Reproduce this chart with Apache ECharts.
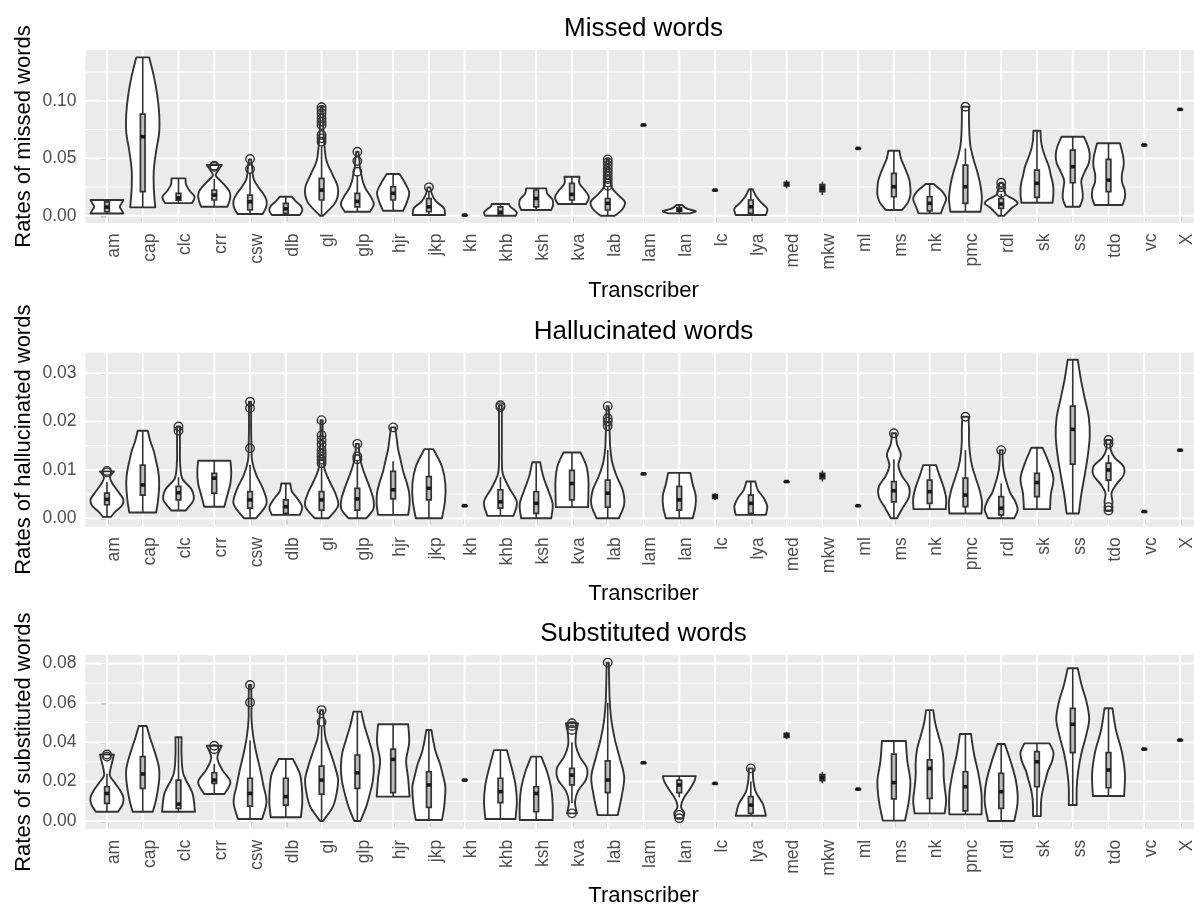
<!DOCTYPE html>
<html><head><meta charset="utf-8">
<script src="https://cdn.jsdelivr.net/npm/echarts@6/dist/echarts.min.js"></script>
<style>html,body{margin:0;padding:0;background:#fff}#c{width:1194px;height:905px}</style>
</head><body><div id="c"></div>
<script>
// ---------------- DATA ----------------
const categories = ['am','cap','clc','crr','csw','dlb','gl','glp','hjr','jkp','kh','khb','ksh','kva','lab','lam','lan','lc','lya','med','mkw','ml','ms','nk','pmc','rdl','sk','ss','tdo','vc','X'];

// Violin profile per transcriber: [lo, hi, density widths from lo to hi (category units)]; null = too few values
const missedViolin = [
  [0.002,0.0137, 0.92,0.82,0.72,0.82,0.92],
  [0.0073,0.1377, 0.70,0.62,0.62,0.75,0.92,0.92,0.81,0.62,0.36],
  [0.011,0.0325, 0.75,0.9,0.62,0.42,0.39],
  [0.0078,0.0441, 0.73,0.84,0.9,0.84,0.62,0.34,0.08,0.22,0.42],
  [0.0015,0.049, 0.7,0.9,0.92,0.73,0.45,0.22,0.14,0.11,0.06],
  [0.0006,0.0165, 0.78,0.92,0.84,0.56,0.34],
  [0,0.0948, 0.08,0.78,0.92,0.62,0.28,0.17,0.11,0.08,0.06],
  [0.0035,0.0557, 0.7,0.92,0.75,0.48,0.31,0.22,0.14,0.11,0.06],
  [0.0043,0.0363, 0.56,0.78,0.9,0.67,0.36],
  [0.0006,0.0247, 0.9,0.84,0.39,0.17,0.08],
  null,
  [0,0.0102, 0.84,0.92,0.78,0.56,0.48],
  [0.005,0.0238, 0.84,0.95,0.9,0.62,0.56],
  [0.0102,0.0339, 0.78,0.95,0.73,0.42,0.42],
  [0,0.049, 0.39,0.84,0.95,0.56,0.22,0.14,0.11,0.08,0.06],
  null,
  [0.0021,0.0093, 0.62,0.92,0.5,0.28,0.17],
  null,
  [0.0006,0.023, 0.84,0.92,0.56,0.28,0.11],
  null,
  null,
  null,
  [0.005,0.0565, 0.45,0.78,0.92,0.92,0.87,0.73,0.56,0.39,0.31],
  [0.0021,0.0276, 0.62,0.78,0.92,0.7,0.22],
  [0.0035,0.0948, 0.84,0.92,0.84,0.67,0.45,0.28,0.22,0.2,0.2],
  [0,0.0287, 0.17,0.39,0.62,0.92,0.7,0.28,0.17,0.14,0.08],
  [0.0113,0.0739, 0.87,0.92,0.9,0.78,0.67,0.48,0.31,0.22,0.2],
  [0.0078,0.0687, 0.39,0.56,0.53,0.48,0.67,0.9,0.95,0.84,0.62],
  [0.0093,0.063, 0.78,0.92,0.9,0.75,0.75,0.84,0.84,0.75,0.64],
  null,
  null
];
// Box per transcriber: [whisker low, q1, median, q3, whisker high]
const missedBox = [
  [0.002,0.0035,0.0075,0.012,0.0137],
  [0.0073,0.0209,0.0687,0.0884,0.1377],
  [0.011,0.0135,0.0155,0.0195,0.0325],
  [0.0078,0.0137,0.018,0.0224,0.032],
  [0.0015,0.005,0.0122,0.018,0.037],
  [0.0006,0.002,0.006,0.0108,0.0165],
  [0,0.0137,0.0223,0.0325,0.06],
  [0.0035,0.0078,0.0125,0.0195,0.035],
  [0.0043,0.0137,0.0195,0.0252,0.0363],
  [0.0006,0.0035,0.0078,0.015,0.022],
  [0.0006,0.0006,0.0006,0.0006,0.0006],
  [0,0.0006,0.003,0.0078,0.0102],
  [0.005,0.0078,0.015,0.0224,0.0238],
  [0.0102,0.0137,0.0186,0.0282,0.0339],
  [0,0.005,0.0108,0.015,0.025],
  [0.0789,0.0789,0.0789,0.0789,0.0789],
  [0.0021,0.004,0.005,0.007,0.0093],
  [0.0223,0.0223,0.0223,0.0223,0.0223],
  [0.0006,0.0021,0.0078,0.0137,0.023],
  [0.0238,0.026,0.0275,0.029,0.031],
  [0.018,0.021,0.024,0.027,0.0296],
  [0.0586,0.0586,0.0586,0.0586,0.0586],
  [0.005,0.0165,0.0252,0.0369,0.0565],
  [0.0021,0.0043,0.0108,0.0165,0.0276],
  [0.0035,0.0108,0.0252,0.0441,0.0586],
  [0,0.0064,0.0102,0.015,0.019],
  [0.0113,0.016,0.0282,0.0397,0.0739],
  [0.0078,0.0287,0.0426,0.0571,0.0687],
  [0.0093,0.0209,0.031,0.049,0.063],
  [0.0615,0.0615,0.0615,0.0615,0.0615],
  [0.0925,0.0925,0.0925,0.0925,0.0925]
];
const missedOutliers = [
  ['crr',0.0425],['crr',0.0435],['csw',0.0406],['csw',0.0493],
  ['gl',0.0643],['gl',0.0673],['gl',0.0702],['gl',0.0788],['gl',0.0817],['gl',0.0847],['gl',0.089],['gl',0.0919],['gl',0.0943],
  ['glp',0.0383],['glp',0.0476],['glp',0.0557],['jkp',0.0247],
  ['lab',0.026],['lab',0.029],['lab',0.032],['lab',0.035],['lab',0.038],['lab',0.041],['lab',0.044],['lab',0.0465],['lab',0.049],
  ['pmc',0.0948],['rdl',0.02],['rdl',0.0247],['rdl',0.0287]
];

const hallViolin = [
  [0.0003,0.0097, 0.22,0.5,0.84,0.92,0.73,0.5,0.28,0.17,0.39],
  [0.0012,0.0181, 0.75,0.84,0.9,0.92,0.87,0.75,0.62,0.42,0.28],
  [0.0016,0.019, 0.39,0.84,0.73,0.22,0.11,0.08,0.08,0.08,0.08],
  [0.0024,0.0119, 0.56,0.73,0.9,0.95,0.9],
  [0,0.0241, 0.34,0.92,0.73,0.34,0.11,0.08,0.06,0.06,0.06],
  [0.0007,0.0072, 0.78,0.92,0.67,0.34,0.25],
  [0,0.0203, 0.39,0.92,0.78,0.45,0.17,0.11,0.08,0.06,0.06],
  [0,0.0154, 0.5,0.9,0.9,0.75,0.56,0.36,0.2,0.11,0.08],
  [0.0007,0.0188, 0.84,0.92,0.9,0.75,0.56,0.42,0.28,0.2,0.11],
  [0,0.0143, 0.73,0.9,0.92,0.73,0.25],
  null,
  [0.0005,0.0234, 0.73,0.92,0.5,0.14,0.08,0.08,0.08,0.08,0.08],
  [0,0.0116, 0.84,0.92,0.67,0.39,0.22],
  [0.0023,0.0136, 0.9,0.92,0.92,0.81,0.48],
  [0,0.0232, 0.62,0.92,0.84,0.5,0.25,0.14,0.11,0.08,0.06],
  null,
  [0,0.0094, 0.75,0.9,0.92,0.75,0.62],
  null,
  [0.0007,0.0076, 0.84,0.92,0.73,0.39,0.25],
  null,
  null,
  null,
  [0,0.0176, 0.17,0.5,0.84,0.84,0.45,0.25,0.39,0.17,0.11],
  [0.0019,0.011, 0.9,0.92,0.78,0.56,0.36],
  [0.001,0.021, 0.9,0.92,0.78,0.56,0.36,0.25,0.2,0.2,0.17],
  [0,0.0141, 0.73,0.92,0.78,0.5,0.34,0.2,0.11,0.08,0.08],
  [0.0019,0.0146, 0.73,0.78,0.92,0.67,0.31],
  [0.001,0.0328, 0.34,0.48,0.67,0.84,0.95,0.9,0.67,0.45,0.28],
  [0.0016,0.0162, 0.17,0.22,0.17,0.45,0.84,0.84,0.34,0.11,0.14],
  null,
  null
];
const hallBox = [
  [0.0003,0.0028,0.0039,0.0052,0.0075],
  [0.0012,0.0048,0.0069,0.011,0.0181],
  [0.0016,0.0038,0.0053,0.0066,0.0085],
  [0.0024,0.0052,0.0083,0.0093,0.0119],
  [0,0.0021,0.0038,0.0055,0.011],
  [0.0007,0.001,0.0024,0.0038,0.0072],
  [0,0.0017,0.0038,0.0055,0.011],
  [0,0.0017,0.004,0.0062,0.012],
  [0.0007,0.004,0.0059,0.0097,0.0118],
  [0,0.0038,0.0062,0.0086,0.0143],
  [0.0026,0.0026,0.0026,0.0026,0.0026],
  [0.0005,0.0021,0.0034,0.0059,0.0085],
  [0,0.001,0.0031,0.0055,0.0116],
  [0.0023,0.0038,0.0072,0.0099,0.0136],
  [0,0.0023,0.0052,0.0079,0.0141],
  [0.0092,0.0092,0.0092,0.0092,0.0092],
  [0,0.0017,0.0038,0.0066,0.0094],
  [0.0038,0.0041,0.0045,0.0049,0.0052],
  [0.0007,0.001,0.0031,0.0048,0.0076],
  [0.0076,0.0076,0.0076,0.0076,0.0076],
  [0.0076,0.0082,0.0088,0.0093,0.0099],
  [0.0026,0.0026,0.0026,0.0026,0.0026],
  [0,0.0034,0.0057,0.0076,0.0122],
  [0.0019,0.0031,0.0055,0.0079,0.011],
  [0.001,0.0024,0.0048,0.0083,0.0141],
  [0,0.0007,0.0021,0.0045,0.0072],
  [0.0019,0.0045,0.0074,0.0093,0.0146],
  [0.001,0.0112,0.0184,0.0232,0.0328],
  [0.0055,0.0079,0.01,0.0114,0.0131],
  [0.0014,0.0014,0.0014,0.0014,0.0014],
  [0.0141,0.0141,0.0141,0.0141,0.0141]
];
const hallOutliers = [
  ['am',0.0095],['am',0.0098],['clc',0.0181],['clc',0.019],
  ['csw',0.0145],['csw',0.0228],['csw',0.0241],
  ['gl',0.0114],['gl',0.0121],['gl',0.0128],['gl',0.0134],['gl',0.0141],['gl',0.0152],['gl',0.0162],['gl',0.0172],['gl',0.0203],
  ['glp',0.0122],['glp',0.0128],['glp',0.0154],['hjr',0.0188],['khb',0.023],['khb',0.0234],
  ['lab',0.0191],['lab',0.02],['lab',0.0207],['lab',0.0232],
  ['ms',0.0176],['pmc',0.021],['rdl',0.0141],
  ['tdo',0.0016],['tdo',0.0023],['tdo',0.0154],['tdo',0.0162]
];

const subViolin = [
  [0.0047,0.0338, 0.62,0.87,0.92,0.73,0.45,0.17,0.2,0.3,0.39],
  [0.0047,0.0482, 0.56,0.73,0.84,0.92,0.92,0.78,0.59,0.39,0.22],
  [0.0047,0.0425, 0.92,0.78,0.28,0.17,0.17],
  [0.0137,0.0382, 0.56,0.9,0.45,0.17,0.42],
  [0.001,0.069, 0.67,0.92,0.75,0.56,0.34,0.17,0.08,0.08,0.06],
  [0.0019,0.0315, 0.84,0.92,0.9,0.78,0.39],
  [0,0.0563, 0.08,0.62,0.84,0.92,0.73,0.48,0.22,0.14,0.08],
  [0,0.0555, 0.17,0.48,0.7,0.87,0.92,0.84,0.62,0.39,0.22],
  [0.0124,0.0491, 0.92,0.84,0.73,0.9,0.84],
  [0.0005,0.0462, 0.73,0.84,0.9,0.92,0.78,0.62,0.39,0.25,0.14],
  null,
  [0.001,0.036, 0.84,0.92,0.84,0.62,0.36],
  [0.0005,0.0327, 0.92,0.92,0.84,0.62,0.28],
  [0.0039,0.0496, 0.28,0.17,0.34,0.78,0.84,0.45,0.22,0.22,0.34],
  [0.003,0.0804, 0.56,0.78,0.92,0.67,0.39,0.2,0.11,0.08,0.06],
  null,
  [0.0014,0.0228, 0.22,0.28,0.11,0.14,0.28,0.48,0.67,0.84,0.92],
  null,
  [0.0027,0.0267, 0.84,0.67,0.28,0.14,0.11],
  null,
  null,
  null,
  [0.0002,0.0406, 0.62,0.84,0.92,0.75,0.67],
  [0.0039,0.0563, 0.84,0.92,0.84,0.78,0.78,0.7,0.5,0.31,0.2],
  [0.0034,0.0442, 0.9,0.9,0.73,0.48,0.31],
  [0,0.0391, 0.73,0.92,0.84,0.56,0.2],
  [0.0025,0.0394, 0.22,0.22,0.25,0.34,0.48,0.62,0.84,0.92,0.7],
  [0.0081,0.0775, 0.22,0.22,0.31,0.48,0.73,0.92,0.78,0.5,0.28],
  [0.0127,0.0572, 0.87,0.92,0.75,0.42,0.22],
  null,
  null
];
const subBox = [
  [0.0047,0.009,0.014,0.0174,0.024],
  [0.0047,0.0166,0.0239,0.0327,0.0482],
  [0.0047,0.0064,0.0086,0.0208,0.0425],
  [0.0137,0.0191,0.0208,0.0245,0.029],
  [0.001,0.0076,0.014,0.0217,0.041],
  [0.0019,0.0081,0.0124,0.0217,0.0315],
  [0,0.0137,0.0208,0.0279,0.0479],
  [0,0.0166,0.0245,0.0335,0.0555],
  [0.0124,0.0144,0.0313,0.0365,0.0491],
  [0.0005,0.0069,0.0183,0.025,0.0462],
  [0.0208,0.0208,0.0208,0.0208,0.0208],
  [0.001,0.0093,0.0149,0.0217,0.036],
  [0.0005,0.0047,0.014,0.0174,0.0327],
  [0.009,0.0183,0.0233,0.0267,0.04],
  [0.003,0.0144,0.0208,0.0305,0.06],
  [0.0296,0.0296,0.0296,0.0296,0.0296],
  [0.012,0.0144,0.0183,0.0208,0.0228],
  [0.0191,0.0191,0.0191,0.0191,0.0191],
  [0.0027,0.0039,0.0081,0.0124,0.02],
  [0.0415,0.0425,0.0435,0.0445,0.0453],
  [0.0191,0.0205,0.022,0.0235,0.025],
  [0.0162,0.0162,0.0162,0.0162,0.0162],
  [0.0002,0.0112,0.0195,0.034,0.0406],
  [0.0039,0.0115,0.0267,0.031,0.0563],
  [0.0034,0.0052,0.0174,0.025,0.0442],
  [0,0.0064,0.0149,0.0242,0.0391],
  [0.0025,0.0174,0.0301,0.0352,0.0394],
  [0.0081,0.0347,0.0491,0.0572,0.0775],
  [0.0127,0.0169,0.0259,0.0347,0.0572],
  [0.0365,0.0365,0.0365,0.0365,0.0365],
  [0.0411,0.0411,0.0411,0.0411,0.0411]
];
const subOutliers = [
  ['am',0.0327],['am',0.0338],['crr',0.0364],['crr',0.0382],['csw',0.0602],['csw',0.069],
  ['gl',0.0503],['gl',0.0563],['kva',0.0039],['kva',0.0462],['kva',0.0482],['kva',0.0496],
  ['lab',0.0804],['lan',0.0014],['lan',0.0031],['lya',0.0267]
];

// Axis scales and ticks
const missedRange = [-0.0063, 0.1441];
const missedTicks = [0, 0.05, 0.10];
const missedMinor = [0.025, 0.075, 0.125];
const hallRange = [-0.00174, 0.03426];
const hallTicks = [0, 0.01, 0.02, 0.03];
const hallMinor = [0.005, 0.015, 0.025];
const subRange = [-0.0042, 0.08426];
const subTicks = [0, 0.02, 0.04, 0.06, 0.08];
const subMinor = [0.01, 0.03, 0.05, 0.07];

const titles = ['Missed words', 'Hallucinated words', 'Substituted words'];
const yTitles = ['Rates of missed words', 'Rates of hallucinated words', 'Rates of substituted words'];

// ---------------- RENDER ----------------
const FONT = '"Liberation Sans", Arial, Helvetica, sans-serif';
const panels = [
  {violin: missedViolin, box: missedBox, out: missedOutliers, range: missedRange, ticks: missedTicks, minor: missedMinor,
   top: 50, height: 173, titleTop: 15.5, nameGap: 56.5},
  {violin: hallViolin, box: hallBox, out: hallOutliers, range: hallRange, ticks: hallTicks, minor: hallMinor,
   top: 352.7, height: 174, titleTop: 318.5, nameGap: 56},
  {violin: subViolin, box: subBox, out: subOutliers, range: subRange, ticks: subTicks, minor: subMinor,
   top: 655, height: 174.3, titleTop: 621, nameGap: 55.2}
];
const catIdx = categories.map((c, i) => i);

function catmull(pts) {
  let s = '';
  const n = pts.length;
  for (let i = 0; i < n - 1; i++) {
    const p0 = pts[Math.max(i - 1, 0)], p1 = pts[i], p2 = pts[i + 1], p3 = pts[Math.min(i + 2, n - 1)];
    const c1x = p1[0] + (p2[0] - p0[0]) / 6, c1y = p1[1] + (p2[1] - p0[1]) / 6;
    const c2x = p2[0] - (p3[0] - p1[0]) / 6, c2y = p2[1] - (p3[1] - p1[1]) / 6;
    s += ' C' + c1x + ' ' + c1y + ' ' + c2x + ' ' + c2y + ' ' + p2[0] + ' ' + p2[1];
  }
  return s;
}

function violinRenderer(violins, boxes) {
  return function (params, api) {
    const i = params.dataIndex;
    const v = violins[i], b = boxes[i];
    const children = [];
    if (v) {
      const lo = v[0], hi = v[1], w = v.slice(2), n = w.length;
      const left = [], right = [];
      for (let k = 0; k < n; k++) {
        const y = lo + (hi - lo) * k / (n - 1);
        left.push(api.coord([i - w[k] / 2, y]));
        right.push(api.coord([i + w[k] / 2, y]));
      }
      const r = right.slice().reverse();
      const d = 'M' + left[0][0] + ' ' + left[0][1] + catmull(left) +
        ' L' + r[0][0] + ' ' + r[0][1] + catmull(r) + ' Z';
      children.push({type: 'path', shape: {pathData: d},
        style: {fill: '#ffffff', stroke: '#333333', lineWidth: 1.9, lineJoin: 'round'}});
    }
    const hw = 0.065;
    const pLo = api.coord([i, b[0]]), pHi = api.coord([i, b[4]]);
    const pQ1 = api.coord([i - hw, b[1]]), pQ3 = api.coord([i + hw, b[3]]);
    const pMed = api.coord([i, b[2]]);
    const cx = pLo[0];
    children.push({type: 'line', shape: {x1: cx, y1: pLo[1], x2: cx, y2: pQ1[1]},
      style: {stroke: '#333333', lineWidth: 1.6}});
    children.push({type: 'line', shape: {x1: cx, y1: pQ3[1], x2: cx, y2: pHi[1]},
      style: {stroke: '#333333', lineWidth: 1.6}});
    children.push({type: 'rect', shape: {x: pQ1[0], y: pQ3[1], width: pQ3[0] - pQ1[0], height: Math.max(pQ1[1] - pQ3[1], 0.5)},
      style: {fill: v ? '#bdbdbd' : '#333333', stroke: '#333333', lineWidth: 1.7}});
    children.push({type: 'line', shape: {x1: pQ1[0], y1: pMed[1], x2: pQ3[0], y2: pMed[1]},
      style: {stroke: '#1a1a1a', lineWidth: 3.6}});
    return {type: 'group', children: children};
  };
}

function hLineRenderer(width) {
  return function (params, api) {
    const cs = params.coordSys;
    const y = api.coord([0, api.value(0)])[1];
    return {type: 'line', shape: {x1: cs.x, y1: y, x2: cs.x + cs.width, y2: y},
      style: {stroke: '#ffffff', lineWidth: width}};
  };
}
function vLineRenderer(params, api) {
  const cs = params.coordSys;
  const x = api.coord([api.value(0), 0])[0];
  return {type: 'line', shape: {x1: x, y1: cs.y, x2: x, y2: cs.y + cs.height},
    style: {stroke: '#ffffff', lineWidth: 2}};
}

const option = {
  animation: false,
  backgroundColor: '#ffffff',
  title: [], grid: [], xAxis: [], yAxis: [], series: []
};

panels.forEach((p, g) => {
  option.title.push({
    text: titles[g], left: 643.5, top: p.titleTop, textAlign: 'center', padding: 0,
    textStyle: {fontFamily: FONT, fontSize: 26, fontWeight: 'normal', color: '#000000'}
  });
  option.grid.push({
    left: 85.5, top: p.top, width: 1116, height: p.height,
    show: true, backgroundColor: '#EBEBEB', borderWidth: 0,
    containLabel: false, outerBoundsMode: 'none'
  });
  option.xAxis.push({
    type: 'value', gridIndex: g, min: -0.6, max: 30.6,
    name: 'Transcriber', nameLocation: 'middle', nameGap: p.nameGap, nameMoveOverlap: false,
    nameTextStyle: {fontFamily: FONT, fontSize: 22, color: '#000000'},
    axisLine: {show: false},
    axisTick: {show: true, customValues: catIdx, length: 6, lineStyle: {color: '#333333', width: 1.3}},
    axisLabel: {show: true, customValues: catIdx, rotate: 90, margin: 10.5,
      verticalAlign: 'top', lineHeight: 14,
      formatter: v => categories[Math.round(v)],
      fontFamily: FONT, fontSize: 17.5, color: '#4D4D4D'},
    splitLine: {show: false}, minorSplitLine: {show: false}
  });
  option.yAxis.push({
    type: 'value', gridIndex: g, min: p.range[0], max: p.range[1],
    name: yTitles[g], nameLocation: 'middle', nameGap: 51, nameMoveOverlap: false,
    nameTextStyle: {fontFamily: FONT, fontSize: 22, color: '#000000'},
    axisLine: {show: false},
    axisTick: {show: true, customValues: p.ticks, length: 6, lineStyle: {color: '#333333', width: 1.3}},
    axisLabel: {show: true, customValues: p.ticks, margin: 9,
      formatter: v => v.toFixed(2),
      fontFamily: FONT, fontSize: 17.5, color: '#4D4D4D'},
    splitLine: {show: false}
  });
  option.series.push({
    type: 'custom', xAxisIndex: g, yAxisIndex: g, z: 1, silent: true,
    data: p.minor.map(v => [v]), encode: {y: 0}, renderItem: hLineRenderer(1)
  });
  option.series.push({
    type: 'custom', xAxisIndex: g, yAxisIndex: g, z: 1, silent: true,
    data: p.ticks.map(v => [v]), encode: {y: 0}, renderItem: hLineRenderer(2)
  });
  option.series.push({
    type: 'custom', xAxisIndex: g, yAxisIndex: g, z: 1, silent: true,
    data: catIdx.map(v => [v]), encode: {x: 0}, renderItem: vLineRenderer
  });
  option.series.push({
    type: 'custom', xAxisIndex: g, yAxisIndex: g, z: 2, silent: true,
    data: p.box.map((b, i) => [i, b[0], b[4]]), encode: {x: 0, y: [1, 2]},
    renderItem: violinRenderer(p.violin, p.box)
  });
  option.series.push({
    type: 'scatter', xAxisIndex: g, yAxisIndex: g, z: 3, silent: true,
    symbol: 'circle', symbolSize: 8.5,
    itemStyle: {color: 'rgba(0,0,0,0)', borderColor: '#333333', borderWidth: 1.4, opacity: 1},
    data: p.out.map(o => [categories.indexOf(o[0]), o[1]])
  });
});

const chart = echarts.init(document.getElementById('c'), null, {renderer: 'canvas'});
chart.setOption(option);
</script>
</body></html>
